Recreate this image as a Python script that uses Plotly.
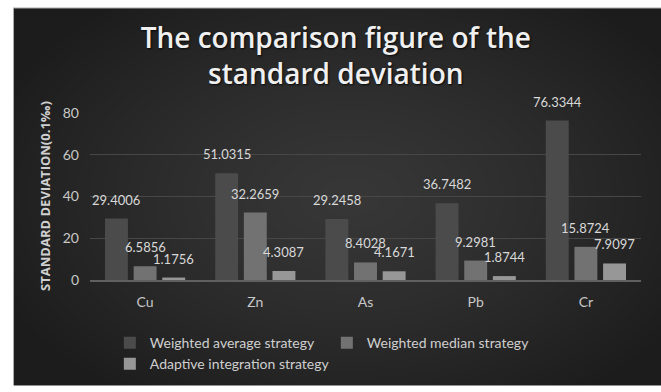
import base64
import struct
import zlib

import numpy as np
import plotly.graph_objects as go

# ---- data -------------------------------------------------------------
elements = ["Cu", "Zn", "As", "Pb", "Cr"]
weighted_average = [29.4006, 51.0315, 29.2458, 36.7482, 76.3344]
weighted_median = [6.5856, 32.2659, 8.4028, 9.2981, 15.8724]
adaptive_integration = [1.1756, 4.3087, 4.1671, 1.8744, 7.9097]

series_names = [
    "Weighted average strategy",
    "Weighted median strategy",
    "Adaptive integration strategy",
]
y_ticks = [0, 20, 40, 60, 80]

# ---- styling ----------------------------------------------------------
W, H = 661, 392
M_L, M_R, M_T, M_B = 90, 20, 112, 108
BAR_COLORS = ["#4b4b4b", "#727272", "#979797"]
BARGAP, GROUPGAP = 0.22, 0.2
LABEL_FONT = "Lato"


def png_data_uri(rgb):
    """Encode an HxWx3 uint8 array as a PNG data URI."""
    h, w, _ = rgb.shape
    raw = b"".join(b"\x00" + rgb[r].tobytes() for r in range(h))

    def chunk(tag, data):
        c = struct.pack(">I", len(data)) + tag + data
        return c + struct.pack(">I", zlib.crc32(tag + data) & 0xFFFFFFFF)

    png = (b"\x89PNG\r\n\x1a\n"
           + chunk(b"IHDR", struct.pack(">IIBBBBB", w, h, 8, 2, 0, 0, 0))
           + chunk(b"IDAT", zlib.compress(raw, 9))
           + chunk(b"IEND", b""))
    return "data:image/png;base64," + base64.b64encode(png).decode()


# dark panel with a soft radial glow behind the chart
PX0, PY0 = 13, 5
pw, ph = W - PX0, H - PY0
yy, xx = np.mgrid[0:ph, 0:pw].astype(float)
d = np.sqrt(((xx - pw * 0.52) / (pw * 0.55)) ** 2 + ((yy - ph * 0.5) / (ph * 0.6)) ** 2)
v = np.clip(55 - 24 * d ** 1.3, 28, 60)
panel = np.repeat(v[:, :, None], 3, axis=2).astype(np.uint8)
panel[0, :, :] = 170
panel[:, 0, :] = 170
panel_uri = png_data_uri(panel)

plot_w = W - M_L - M_R
plot_h = H - M_T - M_B

fig = go.Figure()
for name, vals, col in zip(series_names,
                           [weighted_average, weighted_median, adaptive_integration],
                           BAR_COLORS):
    fig.add_trace(go.Bar(
        x=elements, y=vals, name=name,
        marker=dict(color=col, line=dict(width=0)),
        hoverinfo="x+y+name",
    ))

# value labels above each bar
slot = (1 - BARGAP) / 3
annotations = []
for k, vals in enumerate([weighted_average, weighted_median, adaptive_integration]):
    for i, val in enumerate(vals):
        annotations.append(dict(
            x=i + (k - 1) * slot, y=val, xref="x", yref="y",
            text=f"{val:.4f}", showarrow=False, yshift=19,
            font=dict(family=LABEL_FONT, size=13, color="#d9d9d9"),
        ))

fig.update_layout(
    width=W, height=H,
    margin=dict(l=M_L, r=M_R, t=M_T, b=M_B),
    paper_bgcolor="#ffffff",
    plot_bgcolor="rgba(0,0,0,0)",
    barmode="group", bargap=BARGAP, bargroupgap=GROUPGAP,
    title=dict(
        text="The comparison figure of the<br>standard deviation",
        x=0.508, xref="container", xanchor="center",
        y=0.878, yref="container", yanchor="top",
        font=dict(family="Open Sans", size=28, weight=600, color="#f0f0f0",
                  shadow="1px 1px 2px rgba(0,0,0,0.8)"),
    ),
    xaxis=dict(
        showline=True, linecolor="#606060", linewidth=1.5,
        showgrid=False, ticks="", ticklabelstandoff=8,
        tickfont=dict(family=LABEL_FONT, size=14, color="#c8c8c8"),
    ),
    yaxis=dict(
        range=[0, 80.4], tickvals=y_ticks,
        showgrid=True, gridcolor="#474747", gridwidth=1,
        zeroline=False, showline=False, ticks="", ticklabelstandoff=10,
        tickfont=dict(family=LABEL_FONT, size=14, color="#c8c8c8"),
        title=dict(
            text="STANDARD DEVIATION(0.1‰)", standoff=9,
            font=dict(family="Open Sans", size=13, weight="bold", color="#d0d0d0"),
        ),
    ),
    legend=dict(
        orientation="h", x=0.036, xanchor="left", y=-0.28, yanchor="top",
        entrywidth=172, itemwidth=30,
        font=dict(family=LABEL_FONT, size=14, color="#cfcfcf"),
        bgcolor="rgba(0,0,0,0)",
    ),
    annotations=annotations,
    images=[dict(
        source=panel_uri, xref="paper", yref="paper",
        x=(PX0 - M_L) / plot_w, y=(H - M_B - PY0) / plot_h,
        sizex=pw / plot_w, sizey=ph / plot_h,
        xanchor="left", yanchor="top", sizing="stretch", layer="below",
    )],
)

fig.write_html("out.html")
